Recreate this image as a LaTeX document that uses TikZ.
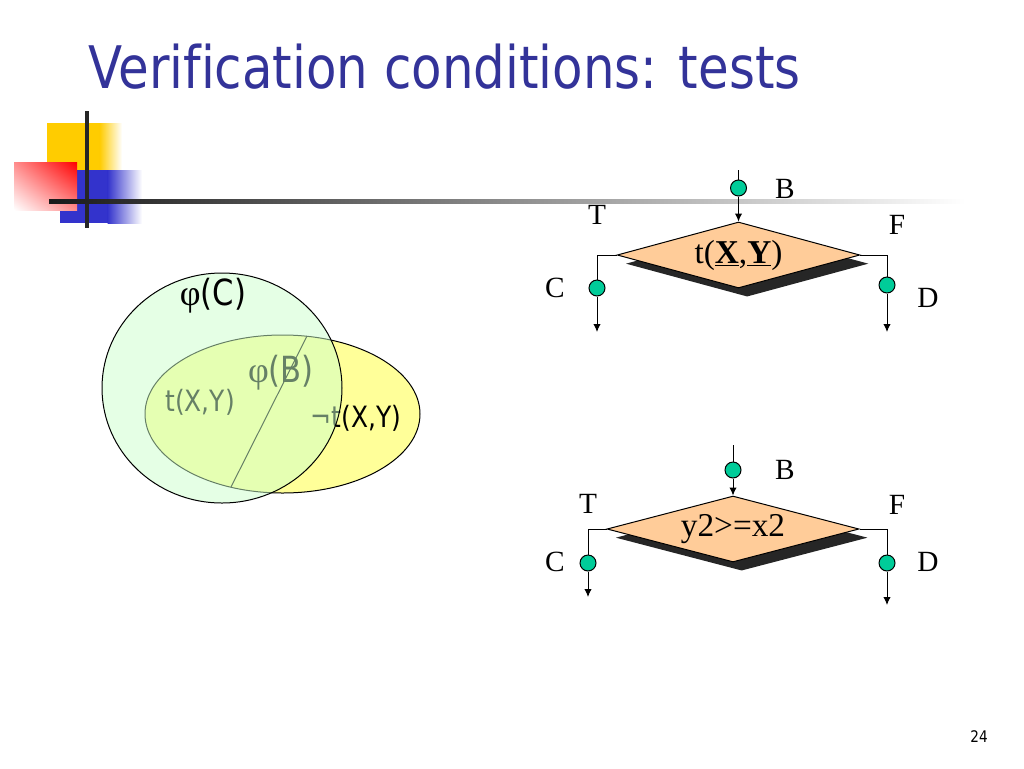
\documentclass[tikz,border=0pt]{standalone}
\usepackage{fontspec}
\setmainfont{Liberation Serif}
\newfontfamily\tahoma[FakeStretch=0.85,Ligatures=NoCommon]{DejaVu Sans}
\usetikzlibrary{shapes.geometric,arrows.meta,shadows,shadings}

\definecolor{titleblue}{RGB}{51,51,153}
\definecolor{peach}{RGB}{255,204,153}
\definecolor{dotgreen}{RGB}{0,204,153}
\definecolor{mint}{RGB}{204,255,204}
\definecolor{lemon}{RGB}{255,255,153}
\definecolor{sqyellow}{RGB}{255,204,0}
\definecolor{sqblue}{RGB}{51,51,204}

\tikzset{
  decision/.style={diamond, draw, line width=0.75pt, fill=peach, aspect=3.7,
    minimum width=182pt, minimum height=49.5pt, inner sep=0pt,
    drop shadow={shadow xshift=6.5pt, shadow yshift=-6.5pt, opacity=1, fill=black!85},
    font=\fontsize{25}{25}\selectfont},
  probe/.style={circle, draw, line width=0.75pt, fill=dotgreen, minimum size=12pt, inner sep=0pt},
  flow/.style={line width=0.75pt},
  flowarrow/.style={line width=0.75pt, -{Latex[length=6pt,width=5.5pt]}},
  lbl/.style={inner sep=0pt, font=\fontsize{22}{22}\selectfont},
  venn/.style={inner sep=0pt, font=\tahoma\fontsize{22}{22}\selectfont},
  vennphi/.style={inner sep=0pt, font=\tahoma\fontsize{27}{27}\selectfont},
}
\newcommand{\vphi}{{\rmfamily φ}}

\begin{document}
\begin{tikzpicture}[x=0.75pt,y=0.75pt,yscale=-1,xscale=1]
\useasboundingbox (0,0) rectangle (1024,768);

%Title decoration: squares
\fill[sqyellow] (47,123) rectangle (100,172);
\shade[left color=sqyellow, right color=white] (99.5,123) rectangle (122,172);
\fill[sqblue] (60,170) rectangle (108,223);
\shade[left color=sqblue, right color=white] (107.5,170) rectangle (142,223);
\shade[upper right=red, upper left=red!45!white, lower left=white, lower right=red!45!white] (14,162) rectangle (77,210);
%Title decoration: lines
\draw[line width=3pt, black!85] (87,111) -- (87,228);
\shade[left color=black!90, right color=white] (49,199) rectangle (965,203.5);

% Title
\node[anchor=base west, inner sep=0pt, text=titleblue, font=\tahoma\fontsize{44}{44}\selectfont] (title) at (88,88) {Verification conditions: tests};

%Shape: Ellipse (not t)
\draw[line width=0.75pt, fill=lemon] (282.5,414) ellipse [x radius=137.5, y radius=79];
%Straight Lines
\draw[line width=0.75pt] (307,336) -- (231,487);
% Text Node
\node[venn] (tXY) at (200,402) {t(X,Y)};
% Text Node
\node[vennphi] (phiB) at (281,373) {\vphi(B)};
% Text Node
\node[venn] (ntXY) at (356,418) {¬t(X,Y)};
%Shape: Circle (phi C)
\draw[line width=0.75pt, fill=mint, fill opacity=0.5] (222,388) ellipse [x radius=120, y radius=115];
% Text Node
\node[vennphi] (phiC) at (213,296) {\vphi(C)};

%Flowchart: Decision t(X,Y)
\node[decision] (testA) at (738.5,255) {t(\underline{\textbf{X}},\underline{\textbf{Y}})};
\coordinate (inA) at (738.5,170);
\coordinate (outCA) at (597,332);
\coordinate (outDA) at (887,332);
\node[probe] (dotBA) at (738.5,188) {};
\node[probe] (dotCA) at (597,288) {};
\node[probe] (dotDA) at (887,285) {};
\draw[flow] (inA) -- (dotBA);
\draw[flowarrow] (dotBA) -- (testA.north);
\draw[flow] (testA.west) -| (dotCA);
\draw[flowarrow] (dotCA) -- (outCA);
\draw[flow] (testA.east) -| (dotDA);
\draw[flowarrow] (dotDA) -- (outDA);
% Text Node
\node[lbl] (labBA) at (785,189) {B};
\node[lbl] (labTA) at (597,215) {T};
\node[lbl] (labFA) at (897,225) {F};
\node[lbl] (labCA) at (555,288) {C};
\node[lbl] (labDA) at (928,298) {D};

%Flowchart: Decision y2>=x2
\node[decision, minimum width=189pt] (testB) at (733,529) {y2>=x2};
\coordinate (inB) at (733,445);
\coordinate (outCB) at (588,597);
\coordinate (outDB) at (887,605);
\node[probe] (dotBB) at (733,470) {};
\node[probe] (dotCB) at (588,563) {};
\node[probe] (dotDB) at (887,563) {};
\draw[flow] (inB) -- (dotBB);
\draw[flowarrow] (dotBB) -- (testB.north);
\draw[flow] (testB.west) -| (dotCB);
\draw[flowarrow] (dotCB) -- (outCB);
\draw[flow] (testB.east) -| (dotDB);
\draw[flowarrow] (dotDB) -- (outDB);
% Text Node
\node[lbl] (labBB) at (785,470) {B};
\node[lbl] (labTB) at (588,504) {T};
\node[lbl] (labFB) at (897,505) {F};
\node[lbl] (labCB) at (555,562) {C};
\node[lbl] (labDB) at (928,562) {D};

% Page number
\node[inner sep=0pt, font=\tahoma\fontsize{12}{12}\selectfont] (pageno) at (979,737) {24};

\end{tikzpicture}
\end{document}
